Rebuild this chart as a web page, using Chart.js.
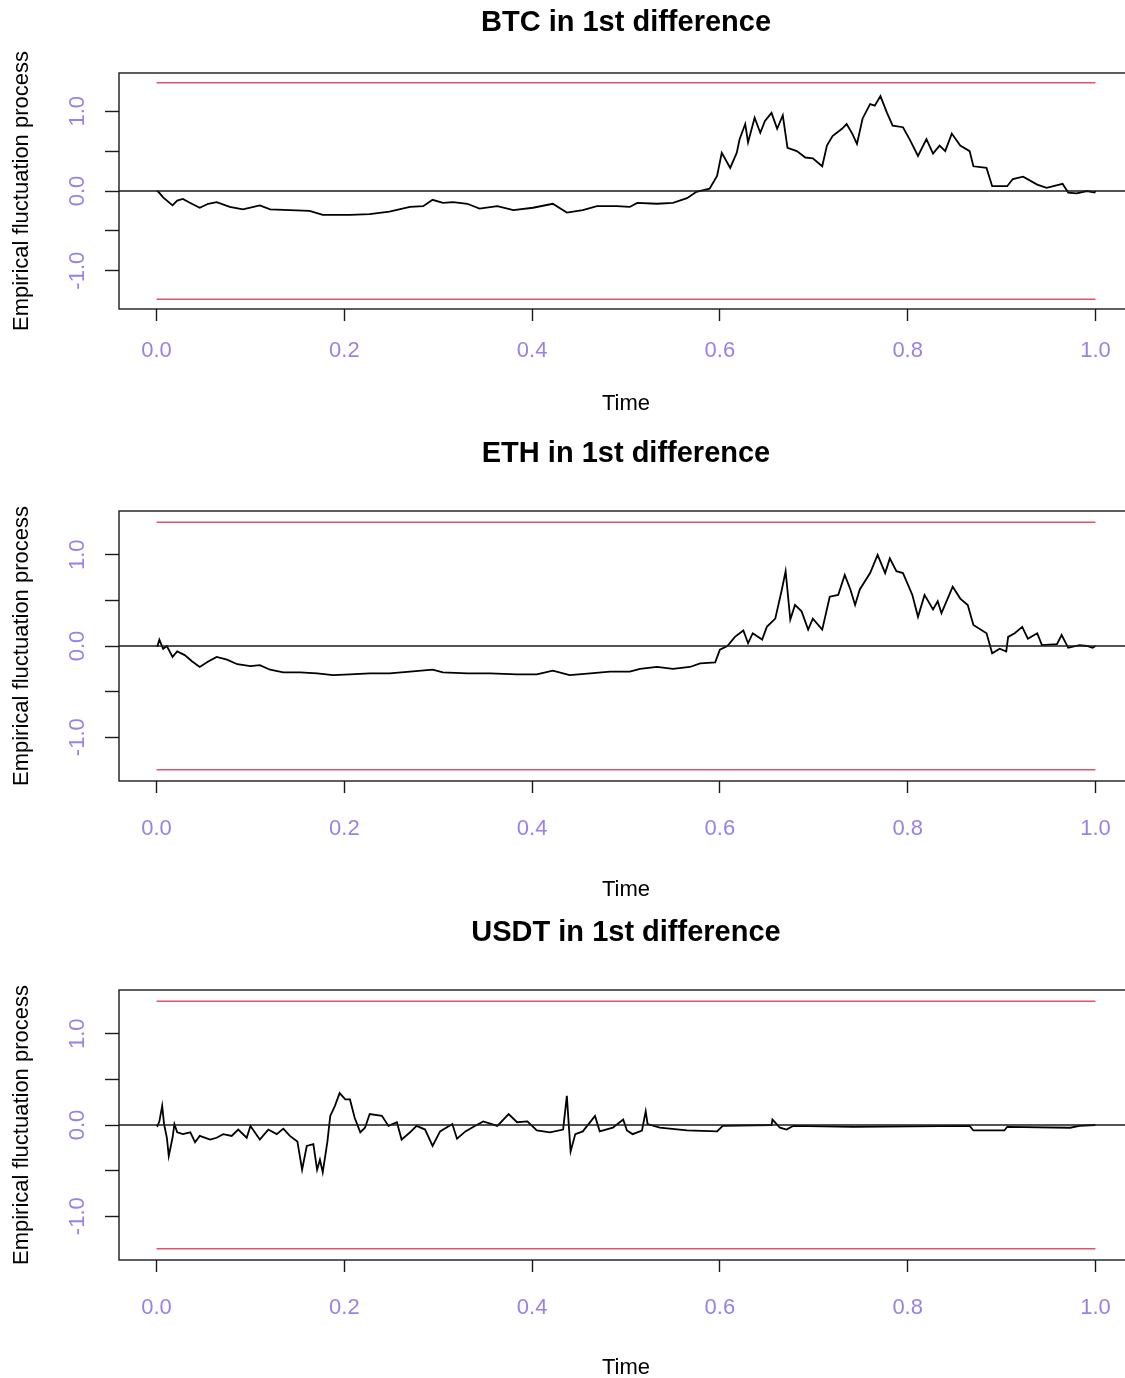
<!DOCTYPE html>
<html>
<head>
<meta charset="utf-8">
<script src="https://cdn.jsdelivr.net/npm/chart.js@4.4.1/dist/chart.umd.min.js"></script>
<style>
  html, body { margin: 0; padding: 0; background: #fff; overflow: hidden; }
  body { width: 1125px; height: 1378px; position: relative; }
  canvas { position: absolute; left: 0; }
</style>
</head>
<body>
<canvas id="btcChart" width="1140" height="430" style="top:0px"></canvas>
<canvas id="ethChart" width="1140" height="478" style="top:430px"></canvas>
<canvas id="usdtChart" width="1140" height="480" style="top:908px"></canvas>
<script>
"use strict";

// ~ axis settings
const boundary = 1.358;
const xRange = [-0.04, 1.04];
const yRange = [-1.48, 1.48];
const xTicks = [0, 0.2, 0.4, 0.6, 0.8, 1.0];
const yTicks = [-1.0, -0.5, 0.0, 0.5, 1.0];
const yLabelTicks = [-1.0, 0.0, 1.0];

const titles = ["BTC in 1st difference", "ETH in 1st difference", "USDT in 1st difference"];
const xTitle = "Time";
const yTitle = "Empirical fluctuation process";

// ~ series
const btcTime = [0, 0.002, 0.007, 0.017, 0.022, 0.028, 0.036, 0.046, 0.055, 0.064, 0.078, 0.092, 0.110, 0.121, 0.142, 0.163, 0.177, 0.206, 0.227, 0.248, 0.270, 0.284, 0.294, 0.305, 0.316, 0.331, 0.344, 0.363, 0.380, 0.401, 0.422, 0.437, 0.454, 0.469, 0.490, 0.504, 0.512, 0.533, 0.550, 0.565, 0.575, 0.589, 0.597, 0.602, 0.611, 0.618, 0.621, 0.627, 0.630, 0.637, 0.643, 0.648, 0.655, 0.661, 0.667, 0.672, 0.682, 0.691, 0.699, 0.709, 0.714, 0.720, 0.730, 0.735, 0.741, 0.746, 0.752, 0.760, 0.765, 0.771, 0.778, 0.784, 0.795, 0.802, 0.811, 0.820, 0.827, 0.834, 0.840, 0.847, 0.856, 0.866, 0.870, 0.884, 0.890, 0.906, 0.912, 0.923, 0.938, 0.948, 0.965, 0.971, 0.980, 0.991, 0.999, 1.0];
const btcValue = [0, -0.01, -0.08, -0.18, -0.12, -0.10, -0.15, -0.21, -0.16, -0.14, -0.20, -0.23, -0.18, -0.23, -0.24, -0.25, -0.30, -0.30, -0.29, -0.26, -0.20, -0.19, -0.11, -0.15, -0.14, -0.16, -0.22, -0.19, -0.24, -0.21, -0.16, -0.27, -0.24, -0.19, -0.19, -0.20, -0.15, -0.16, -0.15, -0.09, -0.01, 0.03, 0.19, 0.48, 0.29, 0.48, 0.65, 0.84, 0.61, 0.92, 0.73, 0.88, 0.98, 0.78, 0.95, 0.54, 0.50, 0.42, 0.41, 0.31, 0.57, 0.69, 0.78, 0.84, 0.72, 0.59, 0.91, 1.09, 1.07, 1.19, 0.98, 0.82, 0.80, 0.65, 0.44, 0.65, 0.47, 0.57, 0.50, 0.72, 0.57, 0.50, 0.31, 0.29, 0.06, 0.06, 0.15, 0.18, 0.08, 0.04, 0.09, -0.02, -0.03, 0.00, -0.02, 0];

const ethTime = [0, 0.001, 0.003, 0.007, 0.011, 0.017, 0.022, 0.030, 0.038, 0.046, 0.055, 0.064, 0.075, 0.086, 0.100, 0.110, 0.121, 0.135, 0.153, 0.171, 0.188, 0.206, 0.227, 0.248, 0.270, 0.294, 0.305, 0.331, 0.355, 0.384, 0.405, 0.422, 0.440, 0.462, 0.483, 0.504, 0.515, 0.533, 0.550, 0.568, 0.579, 0.595, 0.600, 0.608, 0.616, 0.625, 0.630, 0.635, 0.645, 0.650, 0.659, 0.666, 0.670, 0.675, 0.680, 0.687, 0.694, 0.699, 0.709, 0.717, 0.726, 0.733, 0.739, 0.744, 0.749, 0.760, 0.768, 0.776, 0.781, 0.788, 0.795, 0.805, 0.811, 0.818, 0.827, 0.832, 0.836, 0.848, 0.856, 0.864, 0.870, 0.884, 0.890, 0.898, 0.905, 0.907, 0.914, 0.922, 0.928, 0.938, 0.943, 0.959, 0.964, 0.971, 0.983, 0.991, 0.997, 1.0];
const ethValue = [0, 0.00, 0.07, -0.03, 0.00, -0.12, -0.06, -0.10, -0.17, -0.23, -0.17, -0.12, -0.15, -0.20, -0.22, -0.21, -0.26, -0.29, -0.29, -0.30, -0.32, -0.31, -0.30, -0.30, -0.28, -0.26, -0.29, -0.30, -0.30, -0.31, -0.31, -0.27, -0.32, -0.30, -0.28, -0.28, -0.25, -0.23, -0.25, -0.23, -0.19, -0.18, -0.04, 0.00, 0.10, 0.17, 0.03, 0.14, 0.07, 0.21, 0.30, 0.62, 0.82, 0.29, 0.45, 0.38, 0.18, 0.30, 0.18, 0.54, 0.56, 0.78, 0.62, 0.45, 0.62, 0.80, 1.00, 0.80, 0.96, 0.82, 0.80, 0.56, 0.32, 0.56, 0.40, 0.49, 0.36, 0.65, 0.52, 0.45, 0.23, 0.14, -0.08, -0.03, -0.06, 0.10, 0.14, 0.21, 0.08, 0.14, 0.01, 0.02, 0.12, -0.02, 0.01, 0.00, -0.02, 0];

const usdtTime = [0, 0.001, 0.003, 0.006, 0.008, 0.011, 0.013, 0.017, 0.019, 0.022, 0.028, 0.036, 0.041, 0.046, 0.057, 0.064, 0.071, 0.080, 0.087, 0.096, 0.100, 0.110, 0.119, 0.128, 0.135, 0.142, 0.150, 0.155, 0.160, 0.167, 0.171, 0.174, 0.177, 0.182, 0.185, 0.190, 0.195, 0.201, 0.206, 0.211, 0.217, 0.222, 0.227, 0.240, 0.247, 0.256, 0.261, 0.270, 0.277, 0.286, 0.294, 0.302, 0.315, 0.320, 0.329, 0.339, 0.348, 0.363, 0.375, 0.384, 0.395, 0.405, 0.419, 0.433, 0.437, 0.439, 0.441, 0.446, 0.454, 0.467, 0.472, 0.486, 0.497, 0.501, 0.507, 0.517, 0.521, 0.523, 0.536, 0.565, 0.597, 0.603, 0.655, 0.656, 0.664, 0.671, 0.678, 0.742, 0.866, 0.870, 0.903, 0.906, 0.973, 0.983, 1.0];
const usdtValue = [0, -0.01, 0.04, 0.21, 0.01, -0.14, -0.34, -0.14, 0.01, -0.08, -0.10, -0.08, -0.19, -0.12, -0.16, -0.14, -0.10, -0.12, -0.05, -0.14, -0.01, -0.16, -0.05, -0.10, -0.04, -0.12, -0.18, -0.49, -0.23, -0.21, -0.49, -0.38, -0.52, -0.18, 0.10, 0.21, 0.35, 0.28, 0.28, 0.08, -0.08, -0.03, 0.12, 0.10, -0.01, 0.03, -0.16, -0.08, -0.01, -0.05, -0.23, -0.07, 0.01, -0.15, -0.07, -0.01, 0.04, -0.01, 0.12, 0.03, 0.04, -0.06, -0.08, -0.05, 0.32, 0.01, -0.29, -0.10, -0.07, 0.10, -0.07, -0.03, 0.06, -0.06, -0.10, -0.06, 0.15, 0.01, -0.03, -0.06, -0.07, -0.01, 0.00, 0.06, -0.03, -0.05, -0.01, -0.02, -0.01, -0.06, -0.06, -0.02, -0.03, -0.01, 0];

// ~ styles
const FONT = "'Liberation Sans', Arial, sans-serif";
const PURPLE = "#9b80e6";
const RED = "#DF536B";
const INK = "#1a1a1a";

// & box round the plot area and rotated y labels (R style)
const rBoxPlugin = {
  id: "rBox",
  afterDraw(chart) {
    const { ctx, chartArea: a, scales } = chart;
    ctx.save();
    ctx.strokeStyle = INK;
    ctx.lineWidth = 1.4;
    ctx.strokeRect(a.left, a.top, a.right - a.left, a.bottom - a.top);
    ctx.fillStyle = PURPLE;
    ctx.font = "22px " + FONT;
    ctx.textAlign = "center";
    ctx.textBaseline = "middle";
    yLabelTicks.forEach((v) => {
      const y = scales.y.getPixelForValue(v);
      ctx.save();
      ctx.translate(78, y);
      ctx.rotate(-Math.PI / 2);
      ctx.fillText(v.toFixed(1), 0, 0);
      ctx.restore();
    });
    ctx.restore();
  },
};

function lineSet(points, color, width) {
  return { data: points, showLine: true, borderColor: color, borderWidth: width, pointRadius: 0, fill: false };
}

function drawPanel(id, title, times, values, lay) {
  const canvas = document.getElementById(id);
  const H = canvas.height;
  const series = times.map((t, i) => ({ x: t, y: values[i] }));

  new Chart(canvas, {
    type: "scatter",
    data: {
      datasets: [
        lineSet([{ x: xRange[0], y: 0 }, { x: xRange[1], y: 0 }], INK, 1.4),
        lineSet([{ x: xTicks[0], y: boundary }, { x: xTicks[xTicks.length - 1], y: boundary }], RED, 1.5),
        lineSet([{ x: xTicks[0], y: -boundary }, { x: xTicks[xTicks.length - 1], y: -boundary }], RED, 1.5),
        lineSet(series, "#000", 1.8),
      ],
    },
    options: {
      responsive: false,
      animation: false,
      layout: { padding: { left: 0, right: 7, top: 0, bottom: 0 } },
      plugins: {
        legend: { display: false },
        tooltip: { enabled: false },
        title: {
          display: true,
          text: title,
          fullSize: false,
          color: "#000",
          font: { family: FONT, size: 29, weight: "bold" },
          padding: { top: lay.titleY - 15.4, bottom: lay.boxTop - lay.titleY - 19.4 },
        },
      },
      scales: {
        x: {
          type: "linear",
          min: xRange[0],
          max: xRange[1],
          afterBuildTicks: (s) => { s.ticks = xTicks.map((v) => ({ value: v })); },
          afterFit: (s) => { s.height = H - lay.boxBottom; },
          border: { display: false },
          grid: { drawOnChartArea: false, drawTicks: true, tickLength: 12, color: INK, tickWidth: 1.4 },
          ticks: {
            color: PURPLE,
            font: { family: FONT, size: 22 },
            padding: lay.tickPad,
            maxRotation: 0,
            callback: (v) => v.toFixed(1),
          },
          title: {
            display: true,
            text: xTitle,
            color: "#000",
            font: { family: FONT, size: 22 },
            padding: { top: 0, bottom: lay.timePad },
          },
        },
        y: {
          type: "linear",
          min: yRange[0],
          max: yRange[1],
          afterBuildTicks: (s) => { s.ticks = yTicks.map((v) => ({ value: v })); },
          afterFit: (s) => { s.width = 119; },
          border: { display: false },
          grid: { drawOnChartArea: false, drawTicks: true, tickLength: 14, color: INK, tickWidth: 1.4 },
          ticks: { display: false },
          title: {
            display: true,
            text: yTitle,
            color: "#000",
            font: { family: FONT, size: 22 },
            padding: { top: 9, bottom: 0 },
          },
        },
      },
    },
    plugins: [rBoxPlugin],
  });
}

drawPanel("btcChart", titles[0], btcTime, btcValue, { titleY: 21, boxTop: 73, boxBottom: 309, tickPad: 16.8, timePad: 12.8 });
drawPanel("ethChart", titles[1], ethTime, ethValue, { titleY: 22, boxTop: 81, boxBottom: 351, tickPad: 22.8, timePad: 4.8 });
drawPanel("usdtChart", titles[2], usdtTime, usdtValue, { titleY: 23, boxTop: 82, boxBottom: 352, tickPad: 22.8, timePad: 6.8 });
</script>
</body>
</html>
